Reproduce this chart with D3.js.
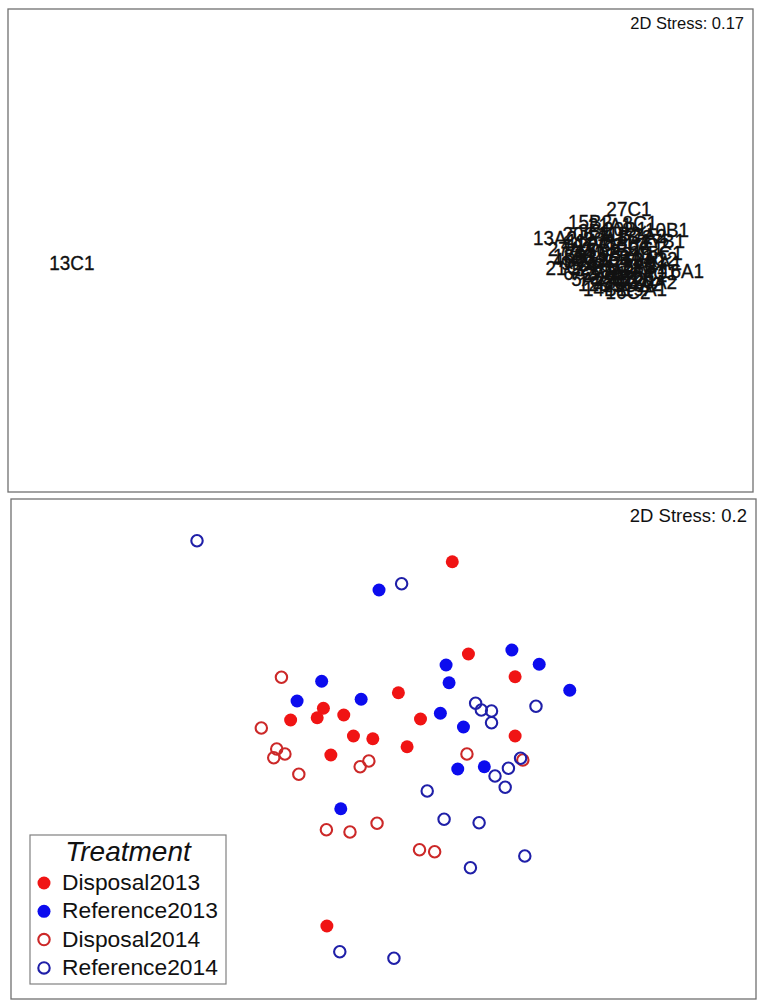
<!DOCTYPE html>
<html>
<head>
<meta charset="utf-8">
<script src="https://cdn.jsdelivr.net/npm/d3@7"></script>
<style>
  body { margin: 0; background: #fff; }
  text { font-family: "Liberation Sans", Arial, sans-serif; fill: #111; }
</style>
</head>
<body>
<svg id="chart" width="757" height="1001"></svg>
<script>
// top panel: sample labels (NMDS1, NMDS2)
var labelNames = ["13C1",
  "27C1", "15B2", "8C1", "21A1", "10B1", "13A2", "20C1", "11B2", "17B1", "4A1",
  "22C2", "18B1", "6C1", "12A2", "19B2", "2A1", "24C2", "9B2", "25A1", "1C2",
  "23B1", "16A1", "5A2", "26B2", "11C1", "20A2", "14B1", "16C2", "3B1", "7A2",
  "27A2", "8B2", "15C1", "2C2", "10A1", "21C2", "18A2", "4C1", "6A2", "25C2",
  "19A1", "12B1", "3C2", "26A1", "9C1", "24A2", "22B1", "13B2", "5C1", "23C2",
  "1A1", "17C2", "14A2", "20B1", "11A1", "7C2", "16B1", "4B2", "27B1", "8A2", "2B2"];
var labelX = [-1.657,
  1.334, 1.125, 1.393, 1.232, 1.538, 0.937, 1.098, 1.286, 1.517, 1.060,
  1.179, 1.329, 1.426, 1.087, 1.232, 1.372, 1.474, 1.060, 1.179, 1.297,
  1.420, 1.619, 1.114, 1.243, 1.366, 1.474, 1.205, 1.329, 1.152, 1.447,
  1.017, 1.297, 1.501, 1.125, 1.420, 1.007, 1.243, 1.501, 1.071, 1.313,
  1.420, 1.179, 1.366, 1.205, 1.259, 1.350, 1.136, 1.044, 1.447, 1.259,
  1.528, 1.168, 1.393, 1.313, 1.114, 1.458, 1.286, 1.017, 1.205, 1.393, 1.313];
var labelY = [-0.048,
  0.176, 0.122, 0.118, 0.110, 0.089, 0.056, 0.072, 0.072, 0.043, 0.031,
  0.027, 0.035, 0.014, -0.006, -0.014, -0.023, -0.031, -0.048, -0.052, -0.060,
  -0.068, -0.081, -0.114, -0.106, -0.114, -0.126, -0.155, -0.168, 0.085, 0.064,
  0.010, 0.010, -0.006, -0.031, -0.039, -0.072, -0.081, -0.089, -0.089, -0.139,
  -0.155, -0.135, 0.060, 0.052, -0.039, -0.081, -0.072, -0.019, -0.101, -0.130,
  -0.048, 0.002, -0.135, 0.093, 0.043, 0.027, -0.027, -0.039, -0.089, -0.056, -0.106];

// bottom panel: groups and their points
var groups = ["Disposal2013", "Reference2013", "Disposal2014", "Reference2014"];
var disposal2013X = [0.277, 0.342, 0.530, 0.060, -0.242, -0.374, -0.267, -0.160, 0.149, -0.121, -0.043, 0.095, -0.212, 0.530, -0.228];
var disposal2013Y = [0.749, 0.380, 0.289, 0.225, 0.163, 0.116, 0.125, 0.136, 0.120, 0.052, 0.041, 0.009, -0.024, 0.052, -0.708];
var reference2013X = [-0.018, 0.517, 0.627, 0.252, 0.264, 0.750, -0.249, -0.348, -0.090, 0.229, 0.322, 0.299, 0.406, -0.172];
var reference2013Y = [0.636, 0.396, 0.339, 0.336, 0.265, 0.235, 0.271, 0.192, 0.199, 0.143, 0.088, -0.080, -0.071, -0.239];
var disposal2014X = [-0.411, -0.492, -0.430, -0.397, -0.442, -0.341, -0.059, -0.094, 0.336, 0.561, -0.230, -0.135, -0.026, 0.145, 0.206];
var disposal2014Y = [0.287, 0.084, 0.000, -0.020, -0.035, -0.101, -0.048, -0.071, -0.020, -0.044, -0.323, -0.332, -0.297, -0.403, -0.411];
var reference2014X = [-0.751, 0.073, 0.371, 0.394, 0.435, 0.435, 0.614, 0.552, 0.503, 0.449, 0.490, 0.176, 0.244, 0.385, 0.569, 0.350, -0.176, 0.042];
var reference2014Y = [0.833, 0.661, 0.183, 0.156, 0.152, 0.105, 0.171, -0.037, -0.077, -0.108, -0.153, -0.168, -0.281, -0.295, -0.428, -0.475, -0.811, -0.837];

var stressTop = "2D Stress: 0.17";
var stressBottom = "2D Stress: 0.2";

var svg = d3.select("#chart");

// styles per group: filled for 2013, open for 2014
var groupStyle = {
  "Disposal2013":  { fill: "#f01414", stroke: "none" },
  "Reference2013": { fill: "#0c0cee", stroke: "none" },
  "Disposal2014":  { fill: "none", stroke: "#cc2828" },
  "Reference2014": { fill: "none", stroke: "#1f1fa8" }
};

// ---------- top panel ----------
var topBox = { x0: 8, y0: 9, x1: 753, y1: 492 };
var xTop = d3.scaleLinear().domain([-2, 2]).range([topBox.x0, topBox.x1]);
var yTop = d3.scaleLinear().domain([-1, 1]).range([topBox.y1, topBox.y0]);

svg.append("rect")
  .attr("x", topBox.x0).attr("y", topBox.y0)
  .attr("width", topBox.x1 - topBox.x0).attr("height", topBox.y1 - topBox.y0)
  .attr("fill", "#fff").attr("stroke", "#707070").attr("stroke-width", 1.3);

var labels = labelNames.map(function(n, i) { return { name: n, x: labelX[i], y: labelY[i] }; });

// labels are a bit narrow in the original, so squeeze them horizontally
svg.append("g").attr("class", "labels")
  .selectAll("text")
  .data(labels)
  .enter()
  .append("text")
  .attr("transform", function(d) { return "translate(" + xTop(d.x) + "," + yTop(d.y) + ") scale(0.9,1)"; })
  .attr("dy", "0.36em")
  .attr("text-anchor", "middle")
  .attr("font-size", 21)
  .attr("stroke", "#111")
  .attr("stroke-width", 0.35)
  .text(function(d) { return d.name; });

svg.append("text")
  .attr("x", topBox.x1 - 9).attr("y", topBox.y0 + 20)
  .attr("text-anchor", "end")
  .attr("font-size", 16.5)
  .text(stressTop);

// ---------- bottom panel ----------
var botBox = { x0: 11, y0: 499, x1: 756, y1: 999 };
var xBot = d3.scaleLinear().domain([-1.5, 1.5]).range([botBox.x0, botBox.x1]);
var yBot = d3.scaleLinear().domain([-1, 1]).range([botBox.y1, botBox.y0]);

svg.append("rect")
  .attr("x", botBox.x0).attr("y", botBox.y0)
  .attr("width", botBox.x1 - botBox.x0).attr("height", botBox.y1 - botBox.y0)
  .attr("fill", "#fff").attr("stroke", "#707070").attr("stroke-width", 1.3);

var seriesX = [disposal2013X, reference2013X, disposal2014X, reference2014X];
var seriesY = [disposal2013Y, reference2013Y, disposal2014Y, reference2014Y];
var points = [];
groups.forEach(function(g, k) {
  seriesX[k].forEach(function(v, i) {
    points.push({ group: g, x: v, y: seriesY[k][i] });
  });
});

svg.append("g").attr("class", "points")
  .selectAll("circle")
  .data(points)
  .enter()
  .append("circle")
  .attr("cx", function(d) { return xBot(d.x); })
  .attr("cy", function(d) { return yBot(d.y); })
  .attr("r", function(d) { return groupStyle[d.group].fill == "none" ? 5.7 : 6.5; })
  .attr("fill", function(d) { return groupStyle[d.group].fill; })
  .attr("stroke", function(d) { return groupStyle[d.group].stroke; })
  .attr("stroke-width", 2.1);

svg.append("text")
  .attr("x", botBox.x1 - 9).attr("y", botBox.y0 + 23)
  .attr("text-anchor", "end")
  .attr("font-size", 18.5)
  .text(stressBottom);

// legend
var legend = svg.append("g").attr("transform", "translate(30,835)");
legend.append("rect")
  .attr("width", 196).attr("height", 149)
  .attr("fill", "#fff").attr("stroke", "#808080").attr("stroke-width", 1.2);
legend.append("text")
  .attr("x", 98).attr("y", 26)
  .attr("text-anchor", "middle")
  .attr("font-size", 28)
  .attr("font-style", "italic")
  .text("Treatment");

var items = legend.selectAll("g.item")
  .data(groups)
  .enter()
  .append("g")
  .attr("class", "item")
  .attr("transform", function(d, i) { return "translate(0," + (55 + i * 28.3) + ")"; });
items.append("circle")
  .attr("cx", 14).attr("cy", -7)
  .attr("r", function(d) { return groupStyle[d].fill == "none" ? 5.7 : 6.5; })
  .attr("fill", function(d) { return groupStyle[d].fill; })
  .attr("stroke", function(d) { return groupStyle[d].stroke; })
  .attr("stroke-width", 2.1);
items.append("text")
  .attr("x", 32).attr("y", 0)
  .attr("font-size", 22.8)
  .text(function(d) { return d; });
</script>
</body>
</html>
